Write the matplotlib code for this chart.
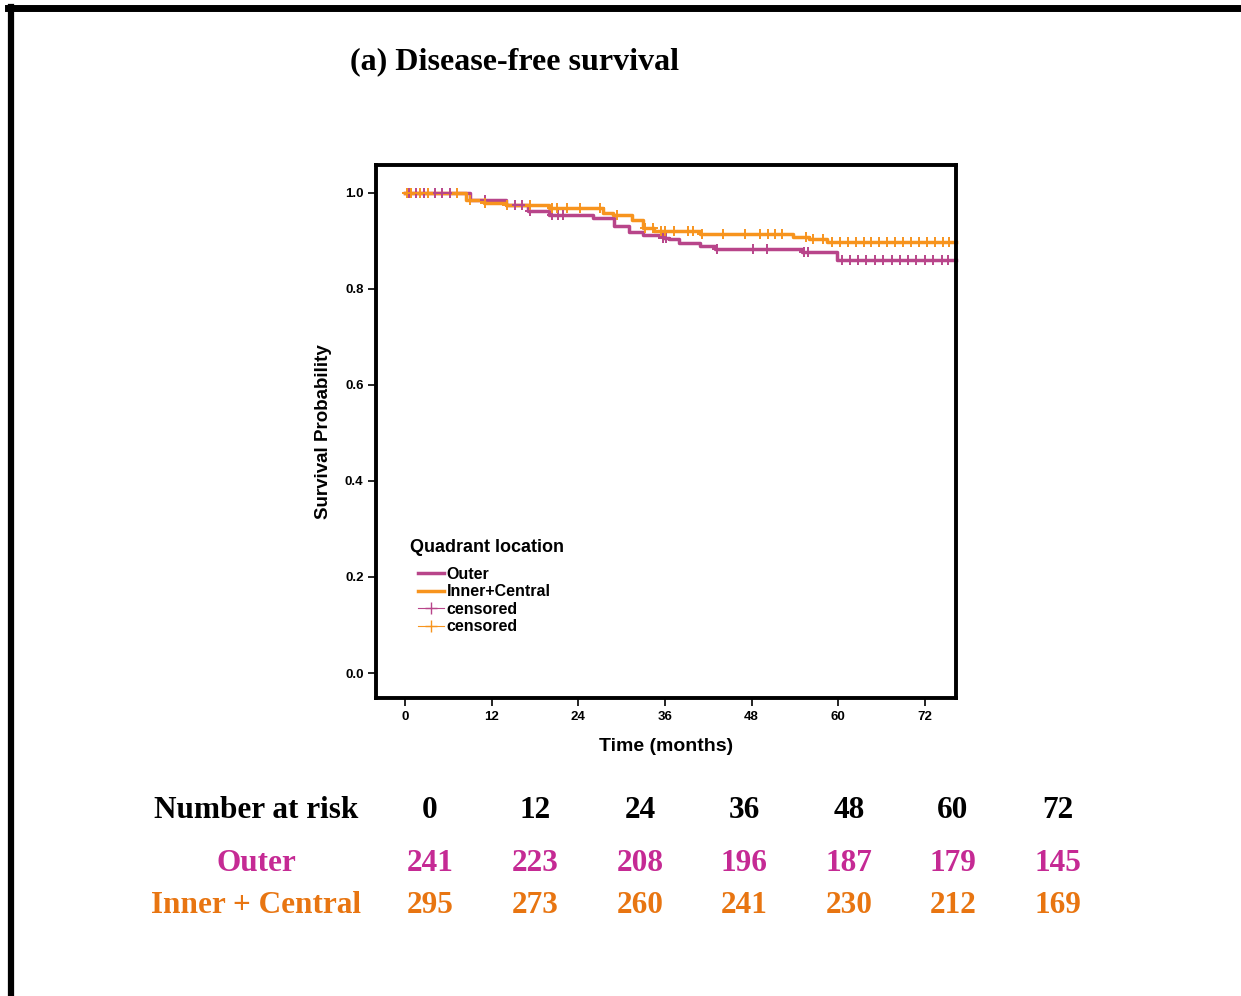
import matplotlib.pyplot as plt
from matplotlib.lines import Line2D
import numpy as np

# curvas de Kaplan-Meier
outer_t = [0, 9, 14, 17, 20, 26, 29, 31, 33, 35.7, 36.5, 38, 40.8, 43, 55, 59.8, 76.3]
outer_s = [1.0, 0.985, 0.975, 0.963, 0.954, 0.948, 0.932, 0.919, 0.912, 0.906, 0.903,
           0.896, 0.890, 0.883, 0.876, 0.860, 0.860]
inner_t = [0, 8.5, 11, 14, 20, 27.4, 28.8, 31.5, 33, 34.5, 40.8, 53.7, 56, 58.4, 76.3]
inner_s = [1.0, 0.985, 0.978, 0.975, 0.968, 0.959, 0.954, 0.944, 0.927, 0.921, 0.915,
           0.909, 0.903, 0.897, 0.897]

outer_cens = [0.5, 1.5, 2.6, 4.2, 5.1, 6.2, 11.1, 15.2, 16.2, 17.3, 20.3, 21.2, 21.9,
              35.7, 36.2, 43.2, 48.2, 50.1, 55.2, 55.8,
              60.5, 61.6, 62.8, 63.9, 65.1, 66.2, 67.4, 68.5, 69.7, 70.8, 72.0, 73.1, 74.3, 75.2]
inner_cens = [0.3, 0.9, 2.1, 3.2, 7.2, 9.0, 11.1, 14.1, 17.3, 20.3, 21.0, 22.4, 24.2, 27.0,
              29.3, 33.2, 34.4, 35.5, 36.0, 37.2, 39.2, 39.9, 41.1, 44.1, 47.1, 49.2, 50.3,
              51.2, 52.2, 55.6, 56.5, 57.9, 59.1,
              60.2, 61.3, 62.4, 63.5, 64.6, 65.7, 66.8, 67.9, 69.0, 70.1, 71.2, 72.3, 73.4, 74.5, 75.4]

# tabla de numero en riesgo
risk_times = [0, 12, 24, 36, 48, 60, 72]
risk_outer = [241, 223, 208, 196, 187, 179, 145]
risk_inner = [295, 273, 260, 241, 230, 212, 169]

col_outer = "#B8458A"
col_inner = "#F7941E"
txt_outer = "#C52A94"
txt_inner = "#E87511"


def surv_at(ts, ss, c):
    idx = np.searchsorted(ts, c, side='right') - 1
    return np.array(ss)[idx]


fig = plt.figure(figsize=(12.41, 9.96), dpi=100)

# marco del recuadro (arriba e izquierda)
fig.add_artist(Line2D([0.0085, 0.0085], [0, 0.9925], color='black', lw=4.5))
fig.add_artist(Line2D([0.0065, 1.0], [0.9915, 0.9915], color='black', lw=5))

fig.text(350 / 1241, 1 - 62 / 996, "(a) Disease-free survival", family="Liberation Serif",
         weight="bold", fontsize=23, va="center", ha="left")

ax = fig.add_axes([376 / 1241, 1 - 698 / 996, (956 - 376) / 1241, (698 - 165) / 996])
ax.step(outer_t, outer_s, where='post', color=col_outer, lw=2.5, clip_on=False)
ax.step(inner_t, inner_s, where='post', color=col_inner, lw=2.5, clip_on=False)
ax.plot(outer_cens, surv_at(outer_t, outer_s, outer_cens), ls='none', marker='+',
        ms=6.5, mew=1.4, color=col_outer)
ax.plot(inner_cens, surv_at(inner_t, inner_s, inner_cens), ls='none', marker='+',
        ms=6.5, mew=1.4, color=col_inner)

ax.set_xlim(-4.0, 76.3)
ax.set_ylim(-0.052, 1.058)
ax.set_xticks(risk_times)
ax.set_yticks([0.0, 0.2, 0.4, 0.6, 0.8, 1.0])
ax.set_yticklabels(["0.0", "0.2", "0.4", "0.6", "0.8", "1.0"])
for sp in ax.spines.values():
    sp.set_linewidth(2.8)
ax.tick_params(length=6, width=1.2, labelsize=9.5, pad=3)
ax.tick_params(axis='x', pad=3.5)
for lab in ax.get_xticklabels() + ax.get_yticklabels():
    lab.set_fontweight('bold')
    lab.set_family('Liberation Sans')
ax.set_xlabel("Time (months)", fontsize=14, weight='bold', family='Liberation Sans', labelpad=11)
ax.set_ylabel("Survival Probability", fontsize=13.5, weight='bold', family='Liberation Sans', labelpad=9)

# leyenda
fig.text(410 / 1241, 1 - 547 / 996, "Quadrant location", family='Liberation Sans',
         weight='bold', fontsize=13, va='center', ha='left')
handles = [Line2D([], [], color=col_outer, lw=2.5),
           Line2D([], [], color=col_inner, lw=2.5),
           Line2D([], [], color=col_outer, marker='+', lw=0.8, ms=9),
           Line2D([], [], color=col_inner, marker='+', lw=0.8, ms=9)]
leg = ax.legend(handles, ["Outer", "Inner+Central", "censored", "censored"],
                loc='upper left', bbox_to_anchor=((418 - 376) / 580, (698 - 567) / 533),
                frameon=False, handlelength=1.6, handletextpad=0.2, labelspacing=0.15,
                borderpad=0.0, borderaxespad=0.0,
                prop={'family': 'Liberation Sans', 'weight': 'bold', 'size': 11.5})

# tabla de numero en riesgo
xs = [430, 535, 640, 744, 849, 953, 1058]
ys = [810, 863, 905]
fig.text(256 / 1241, 1 - ys[0] / 996, "Number at risk", ha='center', va='center',
         family='Liberation Serif', weight='bold', fontsize=22.5)
fig.text(256 / 1241, 1 - ys[1] / 996, "Outer", ha='center', va='center',
         family='Liberation Serif', weight='bold', fontsize=22.5, color=txt_outer)
fig.text(256 / 1241, 1 - ys[2] / 996, "Inner + Central", ha='center', va='center',
         family='Liberation Serif', weight='bold', fontsize=22.5, color=txt_inner)
for i in range(len(risk_times)):
    fig.text(xs[i] / 1241, 1 - ys[0] / 996, str(risk_times[i]), ha='center', va='center',
             family='Liberation Serif', weight='bold', fontsize=22.5)
    fig.text(xs[i] / 1241, 1 - ys[1] / 996, str(risk_outer[i]), ha='center', va='center',
             family='Liberation Serif', weight='bold', fontsize=22.5, color=txt_outer)
    fig.text(xs[i] / 1241, 1 - ys[2] / 996, str(risk_inner[i]), ha='center', va='center',
             family='Liberation Serif', weight='bold', fontsize=22.5, color=txt_inner)

fig.savefig("out.png", dpi=100)
